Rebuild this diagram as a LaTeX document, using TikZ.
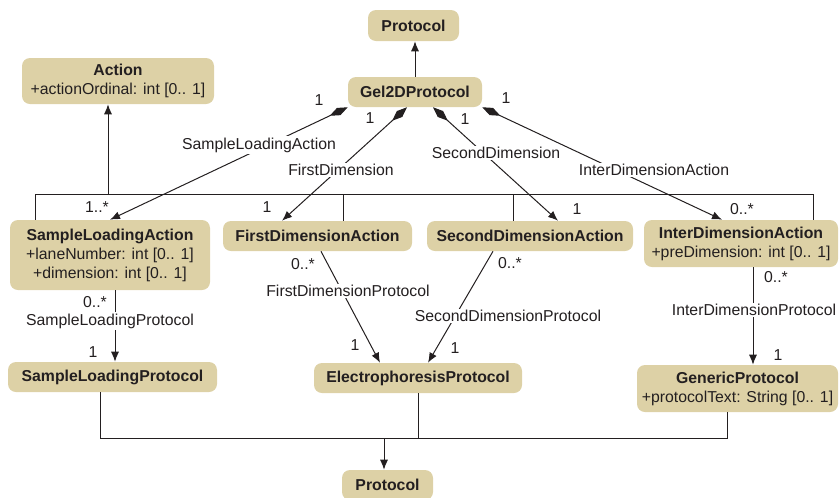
\documentclass[tikz,border=0pt]{standalone}
\usepackage{fontspec}
\setmainfont{Liberation Sans}
\usetikzlibrary{arrows.meta}
\definecolor{boxfill}{RGB}{221,209,166}
\definecolor{ink}{RGB}{35,31,32}
\begin{document}
\begin{tikzpicture}[x=0.75pt,y=-0.75pt,
  every node/.style={font=\fontsize{11.85}{14.3}\selectfont, text=ink},
  cls/.style={fill=boxfill, rounded corners=6pt, inner sep=0pt, align=center},
  lbl/.style={fill=white, inner sep=1pt},
  mult/.style={inner sep=0pt},
  conn/.style={draw=ink, line width=0.75pt},
  arr/.style={conn, -{Latex[length=7.5pt,width=6pt]}},
  comp/.style={conn, {Diamond[length=15pt,width=6pt]}-{Latex[length=7.5pt,width=6pt]}}
]
\useasboundingbox (0,0) rectangle (839,497);
% classes
\node[cls, minimum width=68.25pt, minimum height=23.25pt] (ptop) at (413.5,25.5) {\textbf{Protocol}};
\node[cls, minimum width=144pt, minimum height=34.5pt] (action) at (118,81) {\textbf{Action}\\+actionOrdinal: int [0.. 1]};
\node[cls, minimum width=100.5pt, minimum height=22.5pt] (gel) at (415,92) {\textbf{Gel2DProtocol}};
\node[cls, minimum width=150pt, minimum height=52.5pt] (sla) at (110,255) {\textbf{SampleLoadingAction}\\+laneNumber: int [0.. 1]\\+dimension: int [0.. 1]};
\node[cls, minimum width=141.75pt, minimum height=22.5pt] (fda) at (317.5,236) {\textbf{FirstDimensionAction}};
\node[cls, minimum width=154.5pt, minimum height=22.5pt] (sda) at (530,236) {\textbf{SecondDimensionAction}};
\node[cls, minimum width=145.5pt, minimum height=35.25pt] (ida) at (741,243.5) {\textbf{InterDimensionAction}\\+preDimension: int [0.. 1]};
\node[cls, minimum width=156.75pt, minimum height=22.5pt] (slp) at (112.5,377) {\textbf{SampleLoadingProtocol}};
\node[cls, minimum width=156pt, minimum height=22.5pt] (ep) at (418,378) {\textbf{ElectrophoresisProtocol}};
\node[cls, minimum width=150.75pt, minimum height=35.25pt] (gp) at (737.5,388.5) {\textbf{GenericProtocol}\\+protocolText: String [0.. 1]};
\node[cls, minimum width=68.25pt, minimum height=22.5pt] (pbot) at (387.5,485) {\textbf{Protocol}};

% generalization to Protocol (top)
\draw[arr] (gel.north) -- (gel.north |- ptop.south);

% generalization to Action
\coordinate (gL) at (35,194);
\coordinate (gR) at (813,194);
\coordinate (g0) at (108,194);
\coordinate (g2) at (343,194);
\coordinate (g3) at (513,194);
\draw[conn] (sla.north -| gL) -- (gL) -- (gR) -- (ida.north -| gR);
\draw[conn] (g2) -- (g2 |- fda.north);
\draw[conn] (g3) -- (g3 |- sda.north);
\draw[arr] (g0) -- (g0 |- action.south);

% generalization to Protocol (bottom)
\coordinate (bL) at (100,438);
\coordinate (bR) at (727,438);
\coordinate (b0) at (384,438);
\draw[conn] (slp.south -| bL) -- (bL) -- (bR) -- (gp.south -| bR);
\draw[conn] (ep.south) -- (ep.south |- bL);
\draw[arr] (b0) -- (b0 |- pbot.north);

% compositions
\draw[comp] (gel.south west) -- (sla.north);
\draw[comp] ([xshift=-6pt]gel.south) -- ([xshift=-26.6pt]fda.north);
\draw[comp] ([xshift=13.5pt]gel.south) -- ([xshift=21pt]sda.north);
\draw[comp] (gel.south east) -- ([xshift=-14.25pt]ida.north);

% associations
\draw[arr] ([xshift=3.75pt]sla.south) -- ([xshift=3.75pt]sla.south |- slp.north);
\draw[arr] ([xshift=2.6pt]fda.south) -- ([xshift=-28.5pt]ep.north);
\draw[arr] ([xshift=-27.75pt]sda.south) -- ([xshift=7.5pt]ep.north);
\draw[arr] ([xshift=9pt]ida.south) -- ([xshift=9pt]ida.south |- gp.north);

% role labels
\node[lbl] (l1) at (259,145) {SampleLoadingAction};
\node[lbl] (l2) at (341,170) {FirstDimension};
\node[lbl] (l3) at (496,153) {SecondDimension};
\node[lbl] (l4) at (654,170) {InterDimensionAction};
\node[lbl] (l5) at (110,321) {SampleLoadingProtocol};
\node[lbl] (l6) at (348,291) {FirstDimensionProtocol};
\node[lbl] (l7) at (508,316) {SecondDimensionProtocol};
\node[lbl] (l8) at (754,310) {InterDimensionProtocol};

% multiplicities
\node[mult] (m1) at (319,100) {1};
\node[mult] (m2) at (97,207) {1..*};
\node[mult] (m3) at (370,118) {1};
\node[mult] (m4) at (267,207) {1};
\node[mult] (m5) at (465,119) {1};
\node[mult] (m6) at (577,209) {1};
\node[mult] (m7) at (506,98) {1};
\node[mult] (m8) at (742,209) {0..*};
\node[mult] (m9) at (95,302) {0..*};
\node[mult] (m10) at (93,352) {1};
\node[mult] (m11) at (303,264) {0..*};
\node[mult] (m12) at (355,345) {1};
\node[mult] (m13) at (510,263) {0..*};
\node[mult] (m14) at (455,348) {1};
\node[mult] (m15) at (776,277) {0..*};
\node[mult] (m16) at (778,355) {1};
\end{tikzpicture}
\end{document}
